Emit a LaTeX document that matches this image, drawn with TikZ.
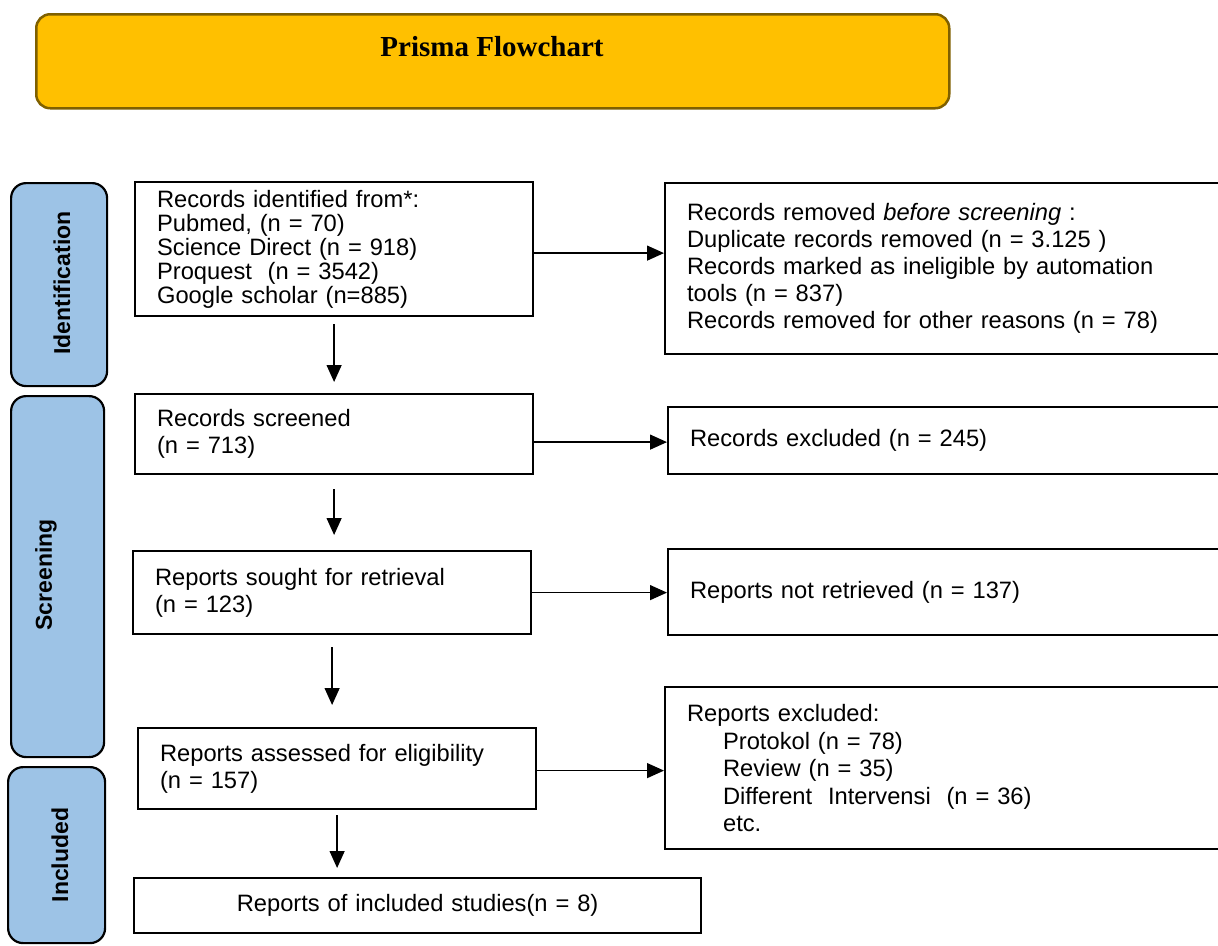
\documentclass[tikz,border=0pt]{standalone}
\usepackage{fontspec}
\setmainfont{Liberation Serif}
\newfontfamily\arialf{Liberation Sans}
\usetikzlibrary{arrows.meta}
\definecolor{gold}{HTML}{FFC000}
\definecolor{golddark}{HTML}{7F6000}
\definecolor{barblue}{HTML}{9DC3E6}
\begin{document}
\begin{tikzpicture}[x=1pt,y=-1pt,
  box/.style={draw=black, line width=2.2pt, rectangle, inner xsep=22pt, inner ysep=0pt,
    align=left, anchor=north west, font=\arialf\fontsize{23.7}{27}\selectfont},
  bar/.style={draw=black, line width=2.2pt, fill=barblue, rounded corners=15pt, anchor=north west},
  barlabel/.style={rotate=90, font=\arialf\bfseries\fontsize{23}{23}\selectfont},
  arr/.style={line width=1.3pt, -{Triangle[length=17pt,width=15pt]}}
]
\useasboundingbox (0,0) rectangle (1218,945);

% title
\node[draw=golddark, line width=2.5pt, fill=gold, rounded corners=14pt, anchor=north west,
  minimum width=913pt, minimum height=94pt] (title) at (35,13) {};
\node[font=\bfseries\fontsize{29}{29}\selectfont] (titletext) at (492,47) {Prisma Flowchart};

% phase bars
\node[bar, minimum width=96pt, minimum height=203pt] (identbar) at (10,182) {};
\node[barlabel] (identlabel) at (62,283) {Identification};
\node[bar, minimum width=93pt, minimum height=361pt] (screenbar) at (10,395) {};
\node[barlabel] (screenlabel) at (46,575) {Screening};
\node[bar, minimum width=97pt, minimum height=176pt] (inclbar) at (7,766) {};
\node[barlabel] (incllabel) at (60,855) {Included};

% boxes
\node[box, text width=354pt, minimum height=134pt, font=\arialf\fontsize{23.7}{24}\selectfont] (A) at (134,181)
  {Records identified from*:\\Pubmed, (n = 70)\\Science Direct (n = 918)\\Proquest\ \ (n = 3542)\\Google scholar (n=885)};
\node[box, text width=516pt, minimum height=171pt] (B) at (664,182)
  {Records removed \textit{before screening} :\\Duplicate records removed (n = 3.125 )\\Records marked as ineligible by automation\\tools (n = 837)\\Records removed for other reasons (n = 78)};
\node[box, text width=354pt, minimum height=80pt] (C) at (134,393)
  {Records screened\\(n = 713)};
\node[box, text width=513pt, minimum height=67pt] (D) at (667,406)
  {Records excluded (n = 245)};
\node[box, text width=354pt, minimum height=83pt] (E) at (132,550)
  {Reports sought for retrieval\\(n = 123)};
\node[box, text width=513pt, minimum height=86pt] (F) at (667,548)
  {Reports not retrieved (n = 137)};
\node[box, text width=354pt, minimum height=81pt] (G) at (137,727)
  {Reports assessed for eligibility\\(n = 157)};
\node[box, text width=516pt, minimum height=162pt, font=\arialf\fontsize{23.7}{27.5}\selectfont] (I) at (664,686)
  {Reports excluded:\\\hspace*{36pt}Protokol (n = 78)\\\hspace*{36pt}Review (n = 35)\\\hspace*{36pt}Different\ \ Intervensi\ \ (n = 36)\\\hspace*{36pt}etc.};
\node[box, text width=523pt, minimum height=55pt, align=center] (H) at (133,877)
  {Reports of included studies(n = 8)};

% arrows
\draw[arr] ([yshift=-4pt]A.east) -- ([yshift=-4pt]A.east -| B.west);
\draw[arr] ([yshift=-8pt]C.east) -- ([yshift=-8pt]C.east -| D.west);
\draw[arr] (E.east) -- (E.east -| F.west);
\draw[arr] ([yshift=-2pt]G.east) -- ([yshift=-2pt]G.east -| I.west);
\draw[arr, shorten <=7pt, shorten >=11pt] (A.south) -- (A.south |- C.north);
\draw[arr, shorten <=14pt, shorten >=15pt] (C.south) -- (C.south |- E.north);
\draw[arr, shorten <=12pt, shorten >=22pt] (E.south) -- (E.south |- G.north);
\draw[arr, shorten <=5pt, shorten >=9pt] (G.south) -- (G.south |- H.north);
\end{tikzpicture}
\end{document}
